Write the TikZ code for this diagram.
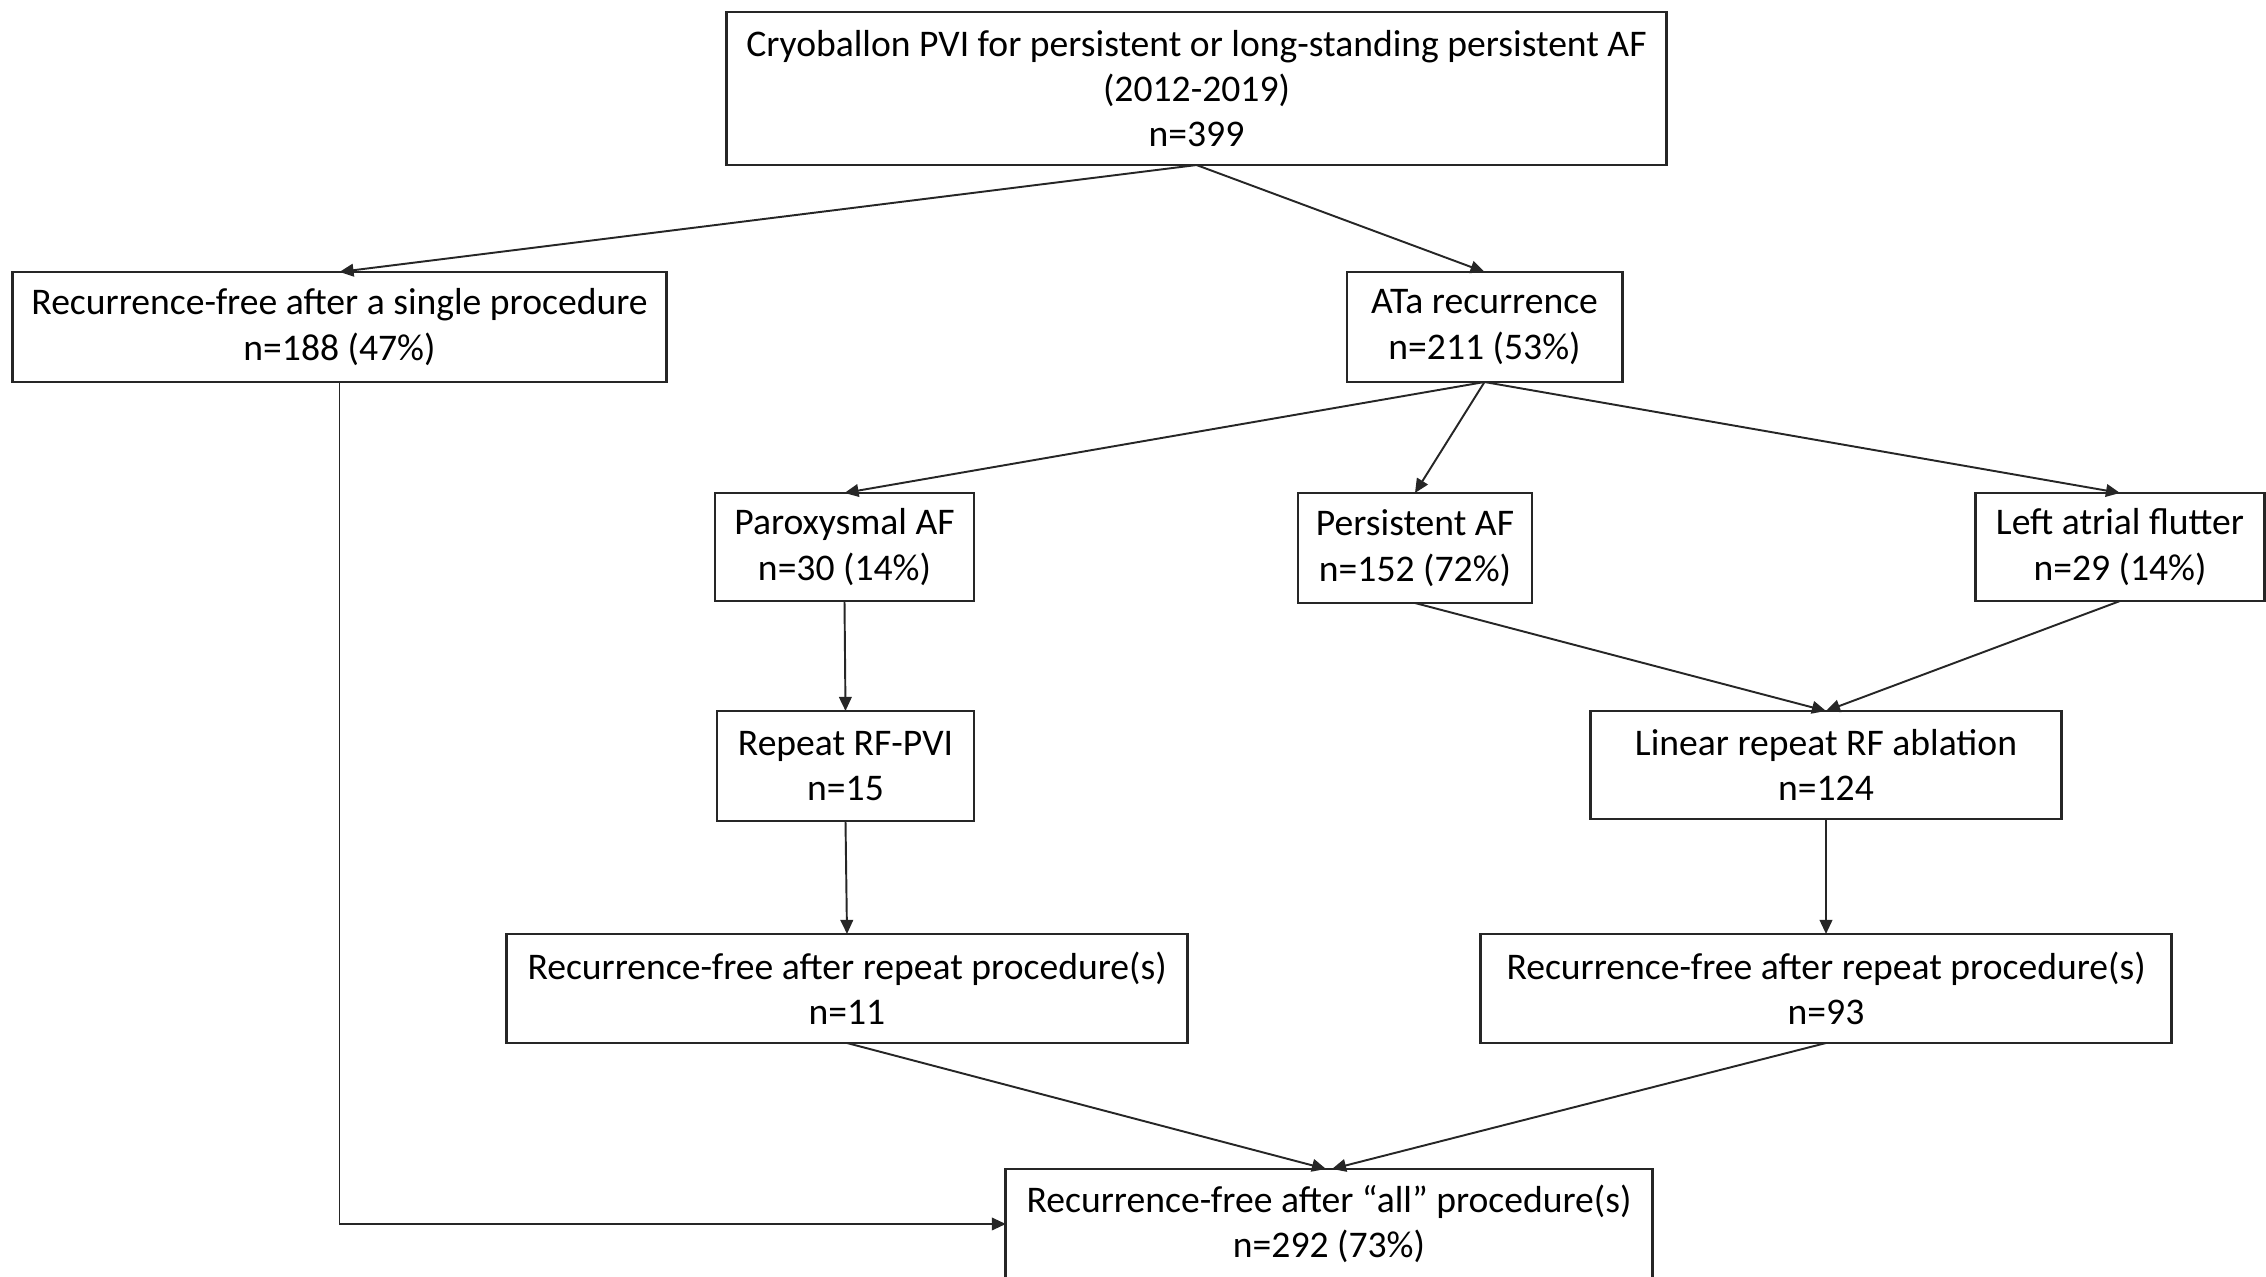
\documentclass[tikz,border=0pt]{standalone}
\usepackage{fontspec}
\setmainfont{Carlito}
\usetikzlibrary{arrows.meta}
\begin{document}
\begin{tikzpicture}[x=0.01cm,y=-0.01cm,
  box/.style={draw=black!85,line width=0.8pt,inner sep=0pt,outer sep=0pt,align=center,
    font=\fontsize{10.7}{12.9}\selectfont},
  arr/.style={draw=black!85,line width=0.55pt,-{Triangle[length=4pt,width=3.6pt]}}]
\useasboundingbox (0,0) rectangle (2266,1277);
\node[box,minimum width=9.39cm,minimum height=1.53cm] (top) at (1196.5,88.5)
  {Cryoballon PVI for persistent or long-standing persistent AF\\(2012-2019)\\n=399};
\node[box,minimum width=6.53cm,minimum height=1.10cm] (single) at (339.5,327)
  {Recurrence-free after a single procedure\\n=188 (47\%)};
\node[box,minimum width=2.75cm,minimum height=1.10cm] (ata) at (1484.5,327)
  {ATa recurrence\\n=211 (53\%)};
\node[box,minimum width=2.59cm,minimum height=1.08cm] (parox) at (844.5,547)
  {Paroxysmal AF\\n=30 (14\%)};
\node[box,minimum width=2.34cm,minimum height=1.10cm] (pers) at (1415,548)
  {Persistent AF\\n=152 (72\%)};
\node[box,minimum width=2.89cm,minimum height=1.08cm] (flut) at (2120,547)
  {Left atrial flutter\\n=29 (14\%)};
\node[box,minimum width=2.57cm,minimum height=1.10cm] (rep) at (845.5,766)
  {Repeat RF-PVI\\n=15};
\node[box,minimum width=4.70cm,minimum height=1.08cm] (lin) at (1826,765)
  {Linear repeat RF ablation\\n=124};
\node[box,minimum width=6.80cm,minimum height=1.09cm] (rfl) at (847,988.5)
  {Recurrence-free after repeat procedure(s)\\n=11};
\node[box,minimum width=6.90cm,minimum height=1.09cm] (rfr) at (1826,988.5)
  {Recurrence-free after repeat procedure(s)\\n=93};
\node[box,minimum width=6.46cm,minimum height=1.10cm] (all) at (1329,1224)
  {Recurrence-free after “all” procedure(s)\\n=292 (73\%)};
\draw[arr] (top.south) -- (single.north);
\draw[arr] (top.south) -- (ata.north);
\draw[arr] (ata.south) -- (parox.north);
\draw[arr] (ata.south) -- (pers.north);
\draw[arr] (ata.south) -- (flut.north);
\draw[arr] (parox.south) -- (rep.north);
\draw[arr] (pers.south) -- (lin.north);
\draw[arr] (flut.south) -- (lin.north);
\draw[arr] (rep.south) -- (rfl.north);
\draw[arr] (lin.south) -- (rfr.north);
\draw[arr] (rfl.south) -- ([xshift=-0.03cm]all.north);
\draw[arr] (rfr.south) -- ([xshift=0.03cm]all.north);
\draw[arr] (single.south) |- (all.west);
\end{tikzpicture}
\end{document}
